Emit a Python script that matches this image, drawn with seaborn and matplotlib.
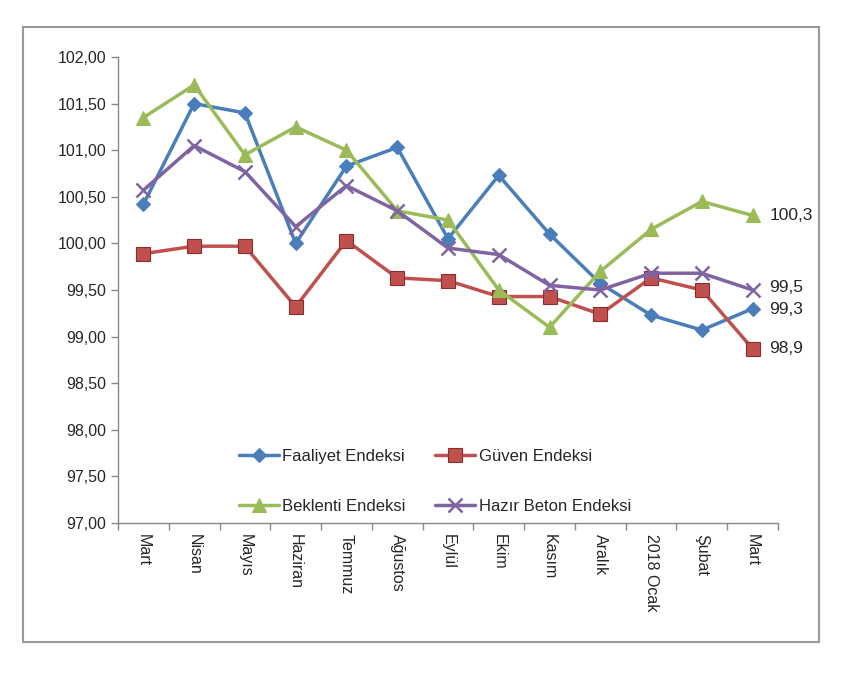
import matplotlib
matplotlib.use("Agg")
import matplotlib.pyplot as plt
import seaborn as sns
import pandas as pd
import numpy as np
from matplotlib.patches import Rectangle

months = ["Mart", "Nisan", "Mayıs", "Haziran", "Temmuz", "Ağustos", "Eylül",
          "Ekim", "Kasım", "Aralık", "2018 Ocak", "Şubat", "Mart"]

faaliyet = [100.42, 101.50, 101.40, 100.00, 100.83, 101.03, 100.05,
            100.73, 100.10, 99.57, 99.23, 99.07, 99.30]
guven = [99.89, 99.97, 99.97, 99.32, 100.03, 99.63, 99.60,
         99.43, 99.43, 99.24, 99.63, 99.50, 98.87]
beklenti = [101.35, 101.70, 100.95, 101.25, 101.00, 100.35, 100.25,
            99.50, 99.10, 99.70, 100.15, 100.45, 100.30]
hazir_beton = [100.57, 101.05, 100.77, 100.18, 100.62, 100.35, 99.95,
               99.88, 99.55, 99.50, 99.68, 99.68, 99.50]

series_names = ["Faaliyet Endeksi", "Güven Endeksi", "Beklenti Endeksi", "Hazır Beton Endeksi"]
series_values = [faaliyet, guven, beklenti, hazir_beton]
end_labels = ["99,3", "98,9", "100,3", "99,5"]
yticks = [97.0, 97.5, 98.0, 98.5, 99.0, 99.5, 100.0, 100.5, 101.0, 101.5, 102.0]

colors = ["#4A7EBB", "#C0504D", "#9BBB59", "#8064A2"]
markers = ["D", "s", "^", "x"]
msizes = [7, 10, 10, 10]

sns.set_theme(style="white")
plt.rcParams['font.family'] = ['Liberation Sans', 'DejaVu Sans']

fig = plt.figure(figsize=(8.5, 6.8), dpi=100)
ax = fig.add_axes([118/850, 1-523/680, (778-118)/850, (523-57)/680])

x = np.arange(len(months))
rows = []
for name, vals in zip(series_names, series_values):
    for i, v in enumerate(vals):
        rows.append({"x": i, "val": v, "series": name})
df = pd.DataFrame(rows)

for name, c, m, ms in zip(series_names, colors, markers, msizes):
    sub = df[df["series"] == name]
    sns.lineplot(data=sub, x="x", y="val", ax=ax, color=c, marker=m, markersize=ms,
                 linewidth=2.5, label=name, markeredgecolor=c if m != "s" else "#8B2D2A",
                 markeredgewidth=1.8 if m == "x" else 0.8)

ax.set_xlim(-0.5, len(months) - 0.5)
ax.set_ylim(97, 102)
ax.set_yticks(yticks)
ax.set_yticklabels([f"{v:.2f}".replace(".", ",") for v in yticks], fontsize=11.5)
ax.set_xticks(x)
ax.set_xticklabels(months, rotation=-90, fontsize=11.5, va="top", ha="center")
ax.set_xticks(np.arange(-0.5, len(months)), minor=True)
ax.tick_params(axis="x", which="major", length=0, pad=8)
ax.tick_params(axis="x", which="minor", length=5, width=1, color="#888888", direction="out", bottom=True)
ax.tick_params(axis="y", which="major", length=5, width=1, color="#888888", direction="out", left=True)
ax.set_xlabel("")
ax.set_ylabel("")
for s in ["top", "right"]:
    ax.spines[s].set_visible(False)
for s in ["left", "bottom"]:
    ax.spines[s].set_color("#888888")
    ax.spines[s].set_linewidth(1)

# end labels
for vals, lab, dy in zip(series_values, end_labels, [-0.01, 0, 0, 0.03]):
    ax.annotate(lab, xy=(len(months) - 1, vals[-1] + dy), xytext=(12, 0),
                textcoords="offset points", va="center", ha="left", fontsize=12.5)

handles, labels = ax.get_legend_handles_labels()
order = [0, 2, 1, 3]
leg = ax.legend([handles[i] for i in order], [labels[i] for i in order],
                loc="lower left", bbox_to_anchor=(0.16, -0.012), ncol=2, frameon=False,
                fontsize=12, handlelength=2.4, columnspacing=1.8, labelspacing=2.1,
                handletextpad=0.2)

fig.patches.append(Rectangle((23/850, 1-642/680), 796/850, 615/680, transform=fig.transFigure,
                             fill=False, edgecolor="#999999", linewidth=1.5))

fig.savefig("out.png", dpi=100)
